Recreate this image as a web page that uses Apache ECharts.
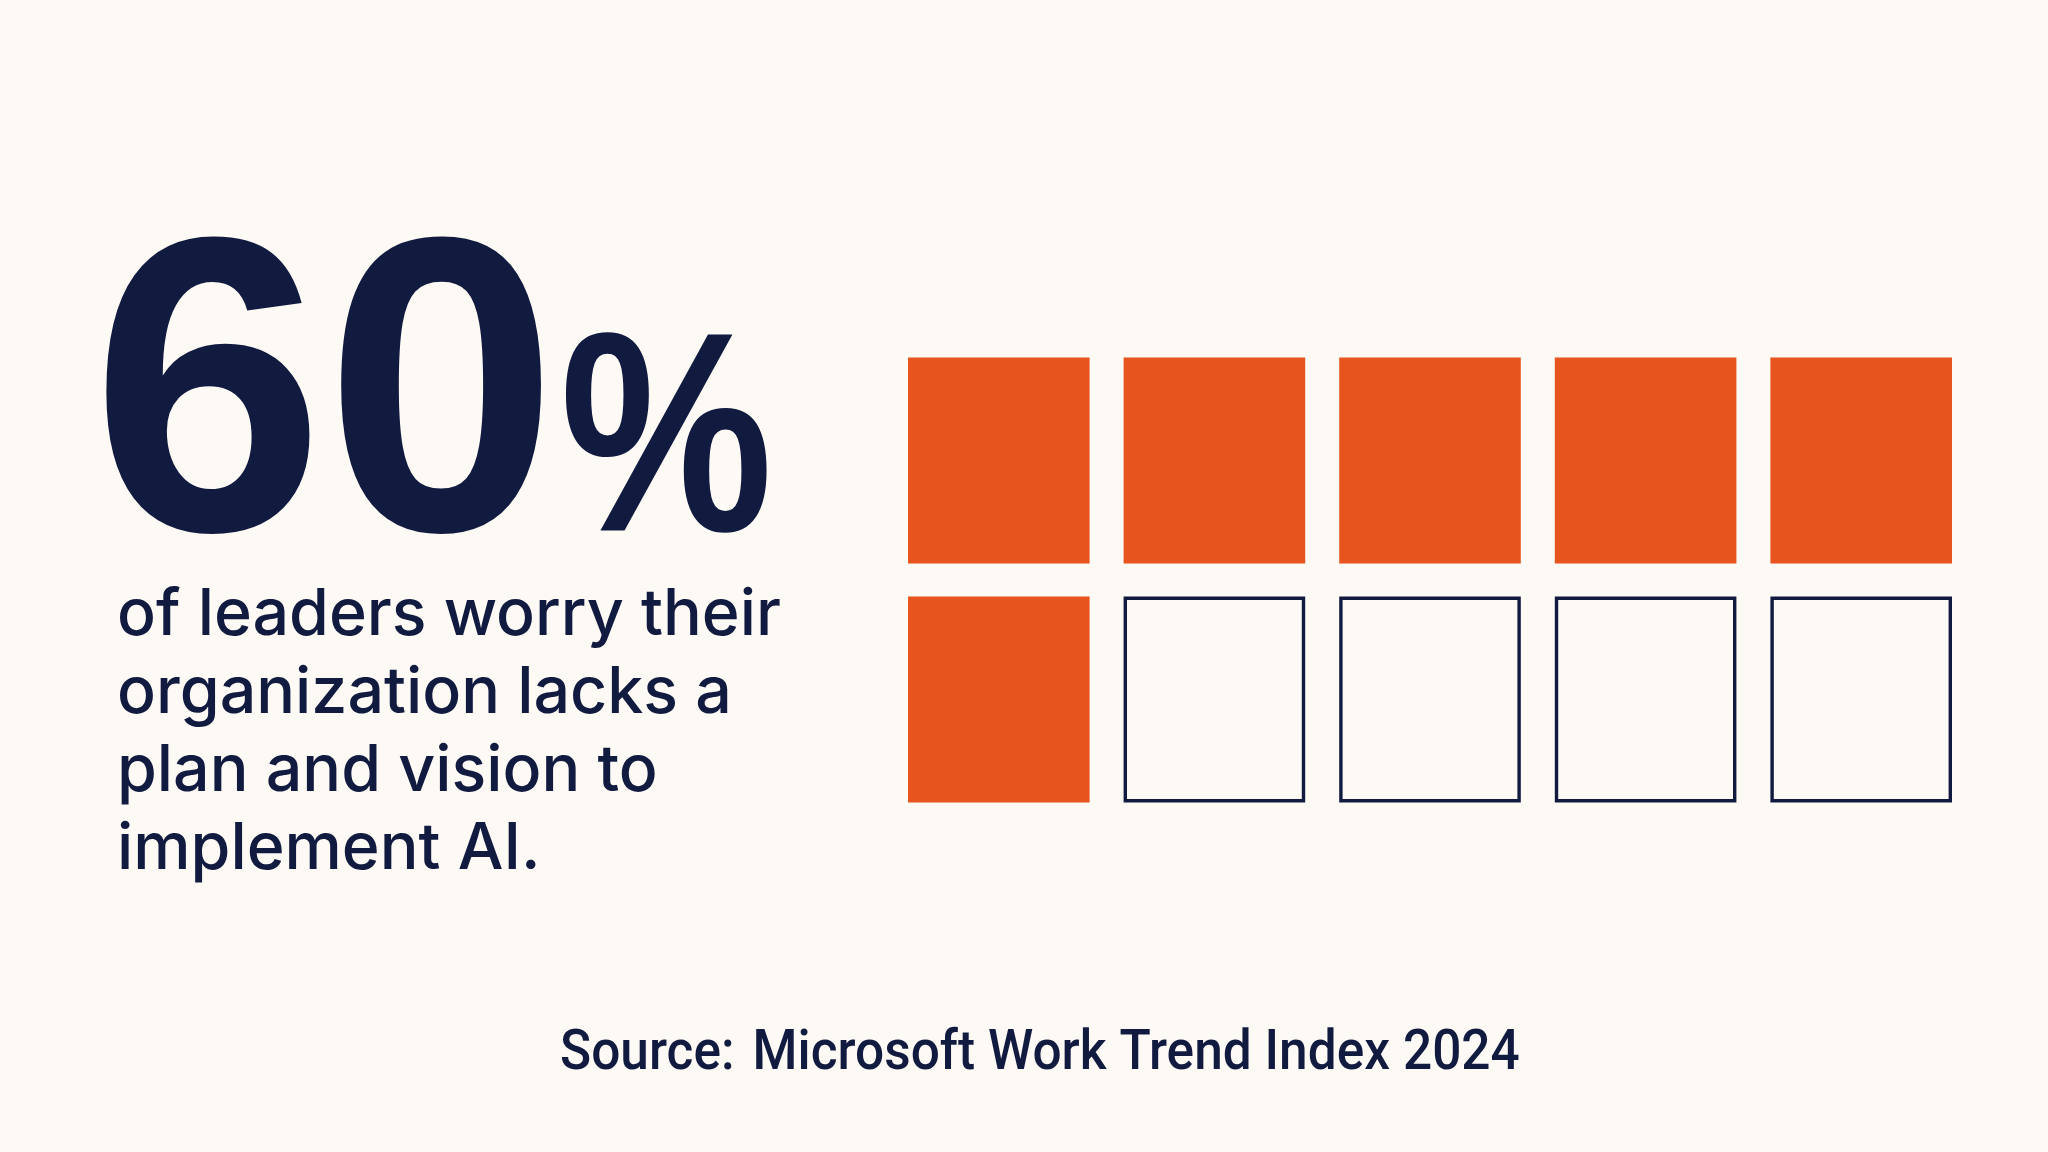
<!DOCTYPE html>
<html>
<head>
<meta charset="utf-8">
<script src="https://cdn.jsdelivr.net/npm/echarts@6/dist/echarts.min.js"></script>
<style>
html,body{margin:0;padding:0;background:#FDF9F4;}
#chart{width:2048px;height:1152px;}
</style>
</head>
<body>
<div id="chart"></div>
<script>
// ---- data ----
const columns = ['1', '2', '3', '4', '5'];
const rows = ['Row 1', 'Row 2'];
const headlineValue = '60';
const headlineUnit = '%';
// [column index, row index, filled (1) / empty (0)]
const cells = [
  [0, 0, 1], [1, 0, 1], [2, 0, 1], [3, 0, 1], [4, 0, 1],
  [0, 1, 1], [1, 1, 0], [2, 1, 0], [3, 1, 0], [4, 1, 0]
];
const bodyLines = [
  'of leaders worry their',
  'organization lacks a',
  'plan and vision to',
  'implement AI.'
];
const sourceText = 'Source:\u200A Microsoft Work Trend Index 2024';

// ---- styles ----
const NAVY = '#111B40';
const ORANGE = '#E8541E';
const BG = '#FDF9F4';

const chart = echarts.init(document.getElementById('chart'));
chart.setOption({
  backgroundColor: BG,
  animation: false,
  grid: { left: 891, top: 341, width: 1078, height: 478 },
  xAxis: { type: 'category', data: columns, show: false },
  yAxis: { type: 'category', data: rows, inverse: true, show: false },
  series: [{
    type: 'custom',
    data: cells,
    encode: { x: 0, y: 1 },
    renderItem: function (params, api) {
      const c = api.coord([api.value(0), api.value(1)]);
      const band = api.size([1, 1]);
      const w = band[0] - 34;
      const h = band[1] - 33;
      const filled = api.value(2) === 1;
      const lw = 3.4;
      if (filled) {
        return {
          type: 'rect',
          shape: { x: c[0] - w / 2, y: c[1] - h / 2, width: w, height: h },
          style: { fill: ORANGE }
        };
      }
      return {
        type: 'rect',
        shape: { x: c[0] - w / 2 + lw / 2, y: c[1] - h / 2 + lw / 2, width: w - lw, height: h - lw },
        style: { fill: 'transparent', stroke: NAVY, lineWidth: lw }
      };
    }
  }],
  graphic: [
    {
      type: 'text', x: 91, y: 414,
      style: {
        text: headlineValue, fill: NAVY,
        font: 'bold 420px "Liberation Sans", Arial, sans-serif',
        align: 'left', verticalAlign: 'middle'
      }
    },
    {
      type: 'text', x: 560, y: 452, scaleX: 0.84,
      style: {
        text: headlineUnit, fill: NAVY,
        font: 'bold 285px "Liberation Sans", Arial, sans-serif',
        align: 'left', verticalAlign: 'middle'
      }
    },
    {
      type: 'text', x: 117, y: 577,
      style: {
        text: bodyLines.join('\n'), fill: NAVY,
        font: '500 64.5px Inter, sans-serif', lineHeight: 78,
        align: 'left', verticalAlign: 'top'
      }
    },
    {
      type: 'text', x: 560, y: 1055, scaleX: 0.935,
      style: {
        text: sourceText, fill: NAVY,
        font: '500 55px Roboto, sans-serif',
        align: 'left', verticalAlign: 'middle'
      }
    }
  ]
});
</script>
</body>
</html>
